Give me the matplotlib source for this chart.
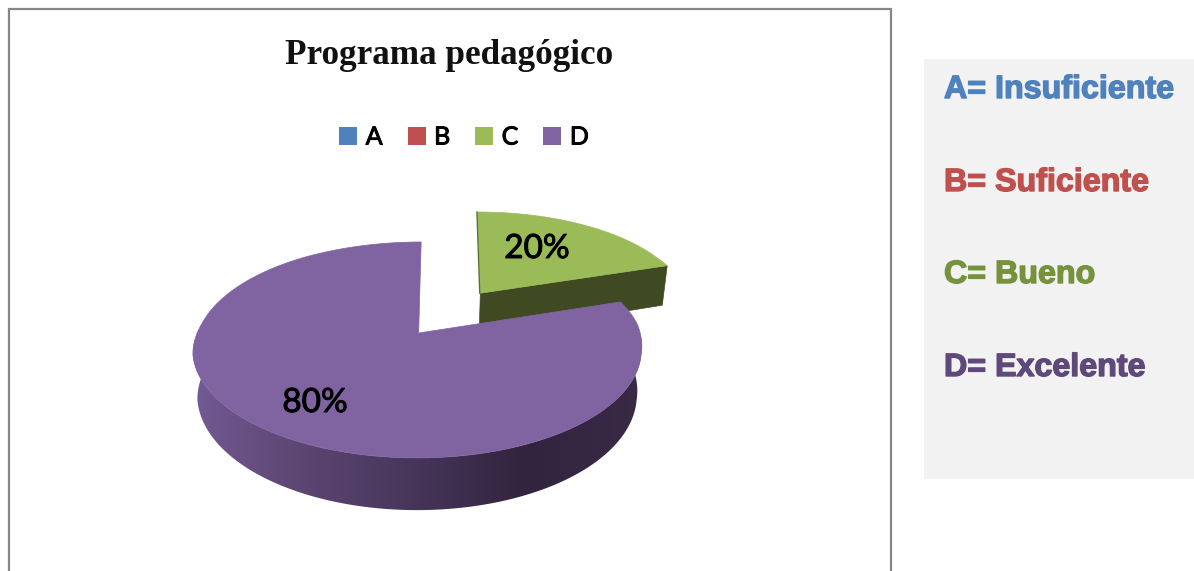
import numpy as np
import matplotlib
matplotlib.use("Agg")
import matplotlib.pyplot as plt
from matplotlib.patches import Patch, Polygon, Rectangle
from matplotlib.colors import LinearSegmentedColormap
import matplotlib.patheffects as pe

categories = ["A", "B", "C", "D"]
values = [0, 0, 20, 80]
colors = ["#4f81bd", "#c0504d", "#9bbb59", "#8064a2"]
meanings = ["A= Insuficiente", "B= Suficiente", "C= Bueno", "D= Excelente"]
meaning_colors = ["#4f81bd", "#c0504d", "#76923c", "#5f497a"]
title = "Programa pedagógico"

# projection of the tilted pie (pixel geometry)
X0, Y0, A, B, K, DEPTH, SHRINK = 419.5, 333, 221.5, 105.3, 0.157, 44, 0.98
EXPLODE = 0.497


def project(u, v, z=0.0):
    u, v = np.asarray(u, float), np.asarray(v, float)
    w = 1 + K * v
    s = 1 - (1 - SHRINK) * z
    warp = 5 * np.clip((v - 0.8) / 0.6, 0, 1) - 2.5 * np.clip((0.1 - v) / 0.3, 0, 1)
    return X0 + warp + A * s * u / w, Y0 - B * v / w + DEPTH * z / w


def wedge_uv(start, end, du=0.0, dv=0.0, n=300):
    t = np.radians(np.linspace(start, end, n))
    return du + np.sin(t), dv + np.cos(t)


fig = plt.figure(figsize=(11.94, 5.71), dpi=100, facecolor="white")
ax = fig.add_axes([0, 0, 1, 1])
ax.axis("off")

# chart frame and side panel
ax.plot([9, 9, 891, 891], [571, 9, 9, 571], color="#868686", lw=1.6, solid_joinstyle="miter")
ax.add_patch(Rectangle((924, 59), 270, 420, fc="#f2f2f2", ec="none"))

# slice angles from the data, clockwise from 12 o'clock
total = sum(values)
c_start, c_end = 0.0, 360.0 * values[2] / total
d_start, d_end = c_end, 360.0

# C slice, exploded along its bisector
mid = np.radians((c_start + c_end) / 2)
du, dv = EXPLODE * np.sin(mid), EXPLODE * np.cos(mid)
u, v = wedge_uv(c_start, c_end, du, dv)
x1, y1 = project([du, u[-1]], [dv, v[-1]], 0)
x2, y2 = project([u[-1], du], [v[-1], dv], 1)
ax.add_patch(Polygon(np.c_[np.r_[x1, x2], np.r_[y1, y2]], fc="#3f4a22", ec="#3f4a22", lw=0.5, zorder=2))
x, y = project(np.r_[du, u], np.r_[dv, v])
ax.add_patch(Polygon(np.c_[x, y], fc=colors[2], ec=colors[2], lw=0.5, zorder=3))
xe, ye = project([du, du], [dv + 1, dv])
ax.plot(xe - 0.6, ye, color="#5f7035", lw=1.0, zorder=3.1)

# D slice: shaded rim (gradient clipped to the rim outline), then the top face
shade = LinearSegmentedColormap.from_list(
    "rim",
    [(0.0, "#735a94"), (0.24, "#5c4672"), (0.5, "#463559"),
     (0.74, "#32233e"), (1.0, "#3a2a47")],
)
u, v = wedge_uv(d_start, d_end, n=800)
keep = v < 0.02
xt, yt = project(u[keep], v[keep], 0)
xb, yb = project(u[keep], v[keep], 1)
rim = Polygon(np.c_[np.r_[xt, xb[::-1]], np.r_[yt, yb[::-1]]], fc="none", ec="none", transform=ax.transData)
ax.add_patch(rim)
img = ax.imshow(np.linspace(0, 1, 440)[None, :], cmap=shade, aspect="auto", zorder=4,
                extent=(190, 645, 520, 340), interpolation="bilinear")
img.set_clip_path(rim)
x, y = project(np.r_[0, u], np.r_[0, v])
ax.add_patch(Polygon(np.c_[x, y], fc=colors[3], ec=colors[3], lw=0.5, zorder=5))

ax.set_xlim(0, 1194)
ax.set_ylim(571, 0)

# percentage labels
label_fx = [pe.withStroke(linewidth=0.7, foreground="black")]
ax.text(537, 249, f"{values[2]}%", fontsize=24, family="Lato", ha="center", va="center", zorder=6, path_effects=label_fx)
ax.text(315, 403, f"{values[3]}%", fontsize=24, family="Lato", ha="center", va="center", zorder=6, path_effects=label_fx)

# title
ax.text(449, 56, title, fontsize=25.3, family="Liberation Serif", fontweight="bold", ha="center", va="center", color="#111111")

# legend
handles = [Patch(fc=c, ec="none", label=n) for c, n in zip(colors, categories)]
leg = ax.legend(handles=handles, ncol=4, frameon=False, loc="center", bbox_to_anchor=(464 / 1194, 1 - 137 / 571),
                bbox_transform=fig.transFigure, prop={"family": "Lato", "size": 18},
                handlelength=0.72, handleheight=0.72, handletextpad=0.34, columnspacing=1.0, borderpad=0)
for t in leg.get_texts():
    t.set_path_effects([pe.withStroke(linewidth=0.7, foreground="black")])

# meanings panel
for yy, txt, c in zip([90, 183, 275, 368], meanings, meaning_colors):
    ax.text(944, yy, txt, fontsize=23.2, family="Liberation Sans", fontweight="bold", color=c, ha="left", va="center",
            path_effects=[pe.withStroke(linewidth=1.0, foreground=c)])

fig.savefig("out.png", dpi=100, facecolor="white")
